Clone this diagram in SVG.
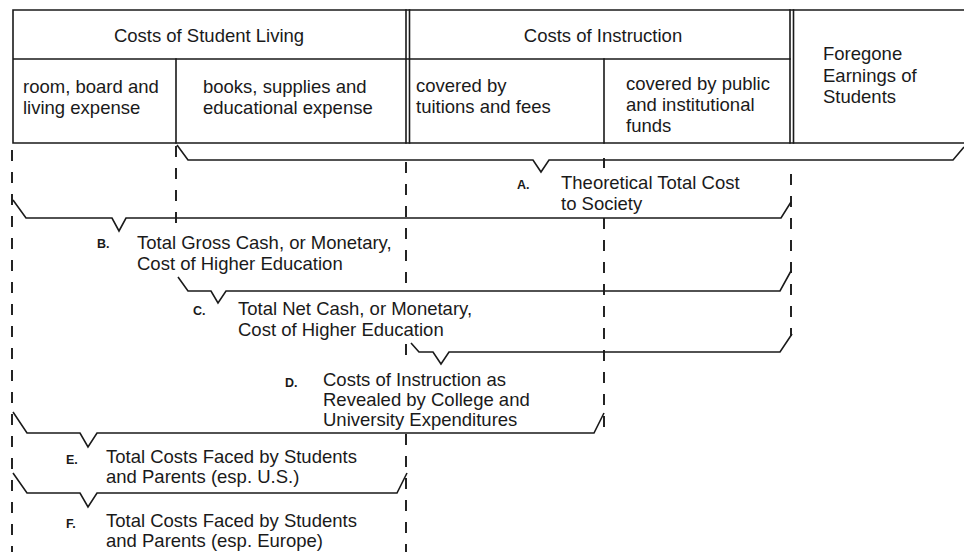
<svg xmlns="http://www.w3.org/2000/svg" width="964" height="552" viewBox="0 0 964 552">
  <style>
    .rule { stroke: #1a1a1a; stroke-width: 1.6; fill: none; stroke-linecap: square; }
    .brace { stroke: #1a1a1a; stroke-width: 1.6; fill: none; stroke-linejoin: miter; }
    .guide { stroke: #1a1a1a; stroke-width: 1.9; fill: none; stroke-dasharray: 11 11; }
    text { font-family: "Liberation Sans", Arial, sans-serif; font-size: 18.5px; fill: #1a1a1a; }
    .tag { font-size: 12.5px; font-weight: bold; }
  </style>
  <rect width="964" height="552" fill="#ffffff"/>

  <!-- cost table -->
  <g id="table">
    <path class="rule" d="M13,10 H964 M13,143 H964 M13,10 V143 M13,59 H790"/>
    <path class="rule" d="M406,10 V143 M409.5,10 V143 M790,10 V143 M793.5,10 V143"/>
    <path class="rule" d="M176,59 V143 M604,59 V143"/>
  </g>

  <g id="student-living">
    <text x="209" y="42" text-anchor="middle">Costs of Student Living</text>
  </g>
  <g id="room-board">
    <text x="23" y="93">room, board and</text>
    <text x="23" y="114">living expense</text>
  </g>
  <g id="books-supplies">
    <text x="203" y="93">books, supplies and</text>
    <text x="203" y="114">educational expense</text>
  </g>
  <g id="instruction">
    <text x="603" y="42" text-anchor="middle">Costs of Instruction</text>
  </g>
  <g id="tuition-fees">
    <text x="416" y="92">covered by</text>
    <text x="416" y="113">tuitions and fees</text>
  </g>
  <g id="public-funds">
    <text x="626" y="90">covered by public</text>
    <text x="626" y="111">and institutional</text>
    <text x="626" y="132">funds</text>
  </g>
  <g id="foregone-earnings">
    <text x="823" y="60">Foregone</text>
    <text x="823" y="82">Earnings of</text>
    <text x="823" y="103">Students</text>
  </g>

  <!-- braces and dashed column guides -->
  <g id="connectors">
    <path class="guide" d="M12,150 V552"/>
    <path class="guide" d="M176,146 V224"/>
    <path class="guide" d="M406,162 V292 M406,344 V362 M406,434 V552"/>
    <path class="guide" d="M604,158 V168 M604,218 V432"/>
    <path class="guide" d="M791,174 V336"/>

    <path id="brace-a" class="brace" d="M177,145 L188,160 L533,160 L541,172 L549,160 L953,160 L964,147"/>
    <path id="brace-b" class="brace" d="M13,200 L26,218 L112,218 L119,231 L126,218 L781,218 L791,202"/>
    <path id="brace-c" class="brace" d="M178,277 L188,291 L211,291 L218,303 L226,291 L780,291 L791,271"/>
    <path id="brace-d" class="brace" d="M411,343 L419,352 L433,352 L441,364 L449,352 L780,352 L792,334"/>
    <path id="brace-e" class="brace" d="M13,412 L27,433 L80,433 L88,447 L97,433 L594,433 L604,413"/>
    <path id="brace-f" class="brace" d="M13,473 L27,493 L80,493 L88,507 L97,493 L397,493 L407,473"/>
  </g>

  <g id="label-a">
    <text class="tag" x="517" y="189">A.</text>
    <text x="561" y="189">Theoretical Total Cost</text>
    <text x="561" y="210">to Society</text>
  </g>
  <g id="label-b">
    <text class="tag" x="97" y="248">B.</text>
    <text x="137" y="249">Total Gross Cash, or Monetary,</text>
    <text x="137" y="270">Cost of Higher Education</text>
  </g>
  <g id="label-c">
    <text class="tag" x="193" y="315">C.</text>
    <text x="238" y="315">Total Net Cash, or Monetary,</text>
    <text x="238" y="336">Cost of Higher Education</text>
  </g>
  <g id="label-d">
    <text class="tag" x="285" y="387">D.</text>
    <text x="323" y="386">Costs of Instruction as</text>
    <text x="323" y="406">Revealed by College and</text>
    <text x="323" y="426">University Expenditures</text>
  </g>
  <g id="label-e">
    <text class="tag" x="66" y="464">E.</text>
    <text x="106" y="463">Total Costs Faced by Students</text>
    <text x="106" y="483">and Parents (esp. U.S.)</text>
  </g>
  <g id="label-f">
    <text class="tag" x="66" y="528">F.</text>
    <text x="106" y="527">Total Costs Faced by Students</text>
    <text x="106" y="547">and Parents (esp. Europe)</text>
  </g>
</svg>
